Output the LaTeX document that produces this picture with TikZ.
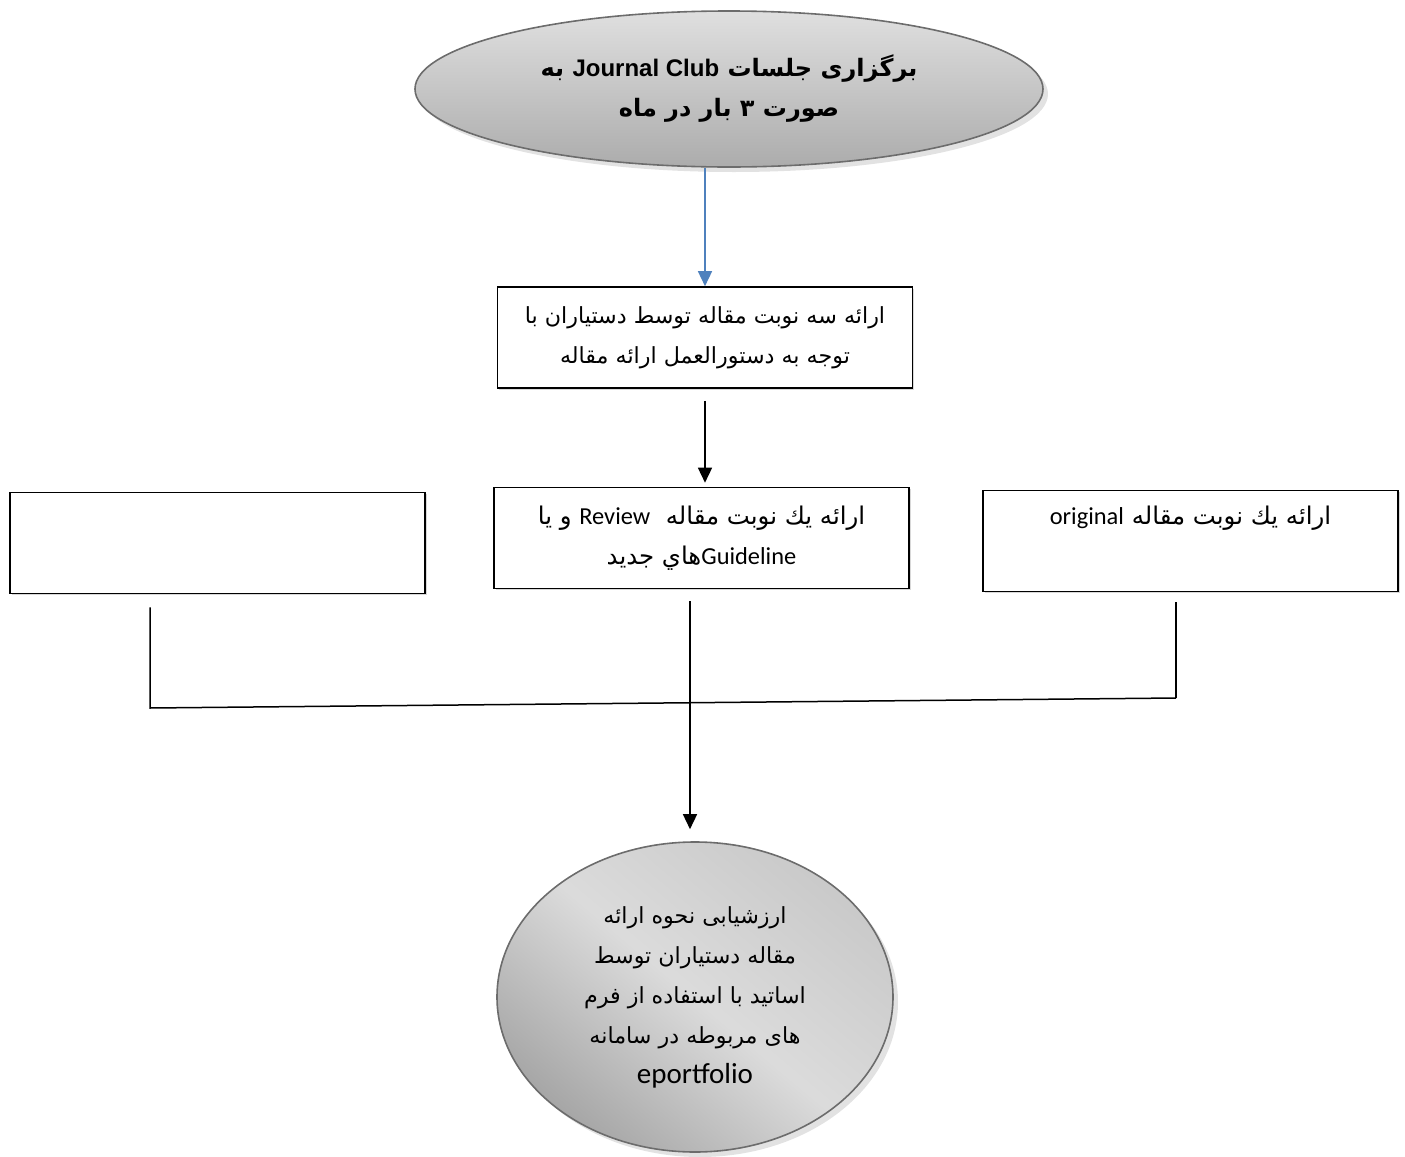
\documentclass[tikz,border=0pt]{standalone}
\usepackage{fontspec}
\setmainfont{Liberation Sans}
\newfontfamily\arabicfont[Script=Arabic]{DejaVu Sans}
\newfontfamily\latinfont{Liberation Sans}
\newfontfamily\calibrifont{Carlito}
\TeXXeTstate=1
\usetikzlibrary{
    shapes,
    arrows.meta,
    shadows,
}
\newcommand{\boxwidth}{207.5pt}
\newcommand{\boxheight}{50.5pt}
\newcommand{\latin}[1]{\beginL{\calibrifont #1}\endL{}}
\definecolor{arrowblue}{RGB}{79,129,189}
\tikzstyle{flowline} = [line width=0.75pt, black]
\tikzstyle{flowarrow} = [
  flowline,
  -{Triangle[length=7.5pt,width=7pt]},
]
\tikzstyle{stepbox} = [
  draw,
  shape=rectangle,
  color=black,
  line width=0.8pt,
  fill=white,
  drop shadow={shadow xshift=0.8pt, shadow yshift=-0.8pt, fill=gray!60},
  minimum width=\boxwidth,
  minimum height=\boxheight,
  align=center,
  font=\arabicfont\fontsize{12.2}{20}\selectfont,
]
\tikzstyle{bubble} = [
  draw=gray!85!black,
  shape=ellipse,
  line width=0.8pt,
  inner sep=0pt,
  align=center,
  drop shadow={shadow xshift=2.5pt, shadow yshift=-2.5pt, fill=gray!45},
]

\begin{document}
\begin{tikzpicture}[x=0.5pt, y=-0.5pt]
    \useasboundingbox (0,0) rectangle (1405,1157);
    % start
    \node[bubble, top color=gray!25, bottom color=gray!65,
      minimum width=314pt, minimum height=78pt,
      font=\arabicfont\bfseries\fontsize{12}{20}\selectfont] (journal) at (729,89)
      {\beginR برگزاری جلسات \beginL{\latinfont\bfseries Journal Club}\endL{} به\endR\\
       \beginR صورت ۳ بار در ماه\endR};
    % boxes
    \node[stepbox, font=\arabicfont\fontsize{11.1}{20}\selectfont] (present) at (705,337.5)
      {\beginR ارائه سه نوبت مقاله توسط دستیاران با\endR\\
       \beginR توجه به دستورالعمل ارائه مقاله\endR};
    \node[stepbox] (review) at (701.5,538)
      {\beginR ارائه يك نوبت مقاله \ \latin{Review} و يا\endR\\
       \beginR\latin{Guideline}هاي جديد\endR};
    \node[stepbox] (original) at (1190.5,541)
      {\beginR ارائه يك نوبت مقاله \latin{original}\endR\\ \strut};
    \node[stepbox] (blank) at (217.5,543) {};
    % end
    \node[bubble, top color=gray!42, bottom color=gray!70, middle color=gray!28,
      shading angle=-40,
      minimum width=198pt, minimum height=155pt,
      font=\arabicfont\fontsize{11.1}{20}\selectfont] (evaluate) at (695,997)
      {\beginR ارزشیابی نحوه ارائه\endR\\
       \beginR مقاله دستیاران توسط\endR\\
       \beginR اساتید با استفاده از فرم\endR\\
       \beginR های مربوطه در سامانه\endR\\
       {\calibrifont\fontsize{14.5}{20}\selectfont eportfolio}};
    % joins
    \coordinate (joinL) at (150,708);
    \coordinate (joinR) at (1176,698);
    \coordinate (joinM) at (690,703);
    % connectors
    \draw[flowarrow, arrowblue] (journal.south -| present.north) -- (present.north);
    \draw[flowarrow, shorten <=6pt, shorten >=2pt] (present.south) -- (present.south |- review.north);
    \draw[flowline, shorten <=6.5pt] (blank.south -| joinL) -- (joinL) -- (joinR);
    \draw[flowline, shorten <=5pt] (original.south -| joinR) -- (joinR);
    \draw[flowarrow, shorten <=6pt, shorten >=6pt] (review.south -| joinM) -- (evaluate.north -| joinM);
\end{tikzpicture}
\end{document}
